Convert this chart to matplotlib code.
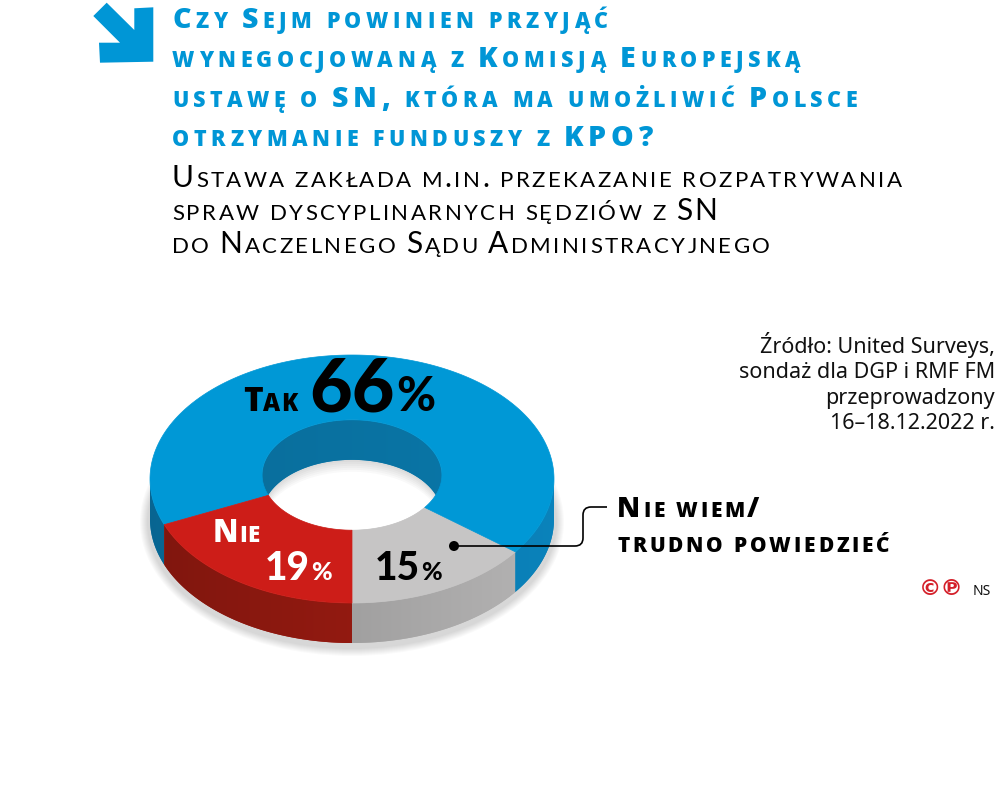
import numpy as np
import matplotlib.pyplot as plt
from matplotlib.patches import Polygon, Circle, PathPatch, Ellipse
from matplotlib.path import Path
from matplotlib.colors import to_rgb
from matplotlib.font_manager import findfont, FontProperties
from matplotlib.ft2font import FT2Font

# dane z wykresu
kategorie = ['Nie wiem/trudno powiedzieć', 'Tak', 'Nie']
wartosci = [15, 66, 19]
kolory_gora = ['#c6c5c5', '#0098d6', '#cd1d18']
kolory_bok = ['#b0afaf', '#0a7fb6', '#a01c12']
kolor_sciany = '#0a78aa'

tytul = ['Czy Sejm powinien przyjąć',
         'wynegocjowaną z Komisją Europejską',
         'ustawę o SN, która ma umożliwić Polsce',
         'otrzymanie funduszy z KPO?']
podtytul = ['Ustawa zakłada m.in. przekazanie rozpatrywania',
            'spraw dyscyplinarnych sędziów z SN',
            'do Naczelnego Sądu Administracyjnego']
zrodlo = ['Źródło: United Surveys,',
          'sondaż dla DGP i RMF FM',
          'przeprowadzony',
          '16–18.12.2022 r.']

NIEBIESKI = '#0096d6'
W, H = 996, 795

fig = plt.figure(figsize=(W / 100, H / 100), dpi=100)
ax = fig.add_axes([0, 0, 1, 1])
ax.set_xlim(0, W)
ax.set_ylim(H, 0)
ax.axis('off')
renderer = fig.canvas.get_renderer()

_fonty = {}


def szerokosc(ch, rozmiar, waga, rodzina):
    # szerokosc znaku (advance) w pikselach przy dpi 100
    klucz = (rodzina, waga)
    if klucz not in _fonty:
        _fonty[klucz] = FT2Font(findfont(FontProperties(family=rodzina, weight=waga)))
    f = _fonty[klucz]
    f.set_size(rozmiar, 100)
    g = f.load_char(ord(ch))
    return g.linearHoriAdvance / 65536


def ciag(x, y, czesci, kolor='black', rodzina='Lato'):
    # kolejne kawalki tekstu jeden za drugim
    for tekst, rozmiar, waga in czesci:
        t = ax.text(x, y, tekst, fontsize=rozmiar, fontweight=waga, color=kolor,
                    family=rodzina, ha='left', va='baseline')
        x += t.get_window_extent(renderer).width + 1
    return x


def kapitaliki(x, y, tekst, duzy, maly, waga=800, kolor='black',
               rodzina='Open Sans', odstep=2.0):
    # kapitaliki: male litery jako mniejsze wielkie, znak po znaku
    for ch in tekst:
        if ch.islower() or ch == ' ':
            s, rozm = ch.upper(), maly
        else:
            s, rozm = ch, duzy
        if ch != ' ':
            ax.text(x, y, s, fontsize=rozm, fontweight=waga, color=kolor,
                    family=rodzina, ha='left', va='baseline')
        x += szerokosc(s, rozm, waga, rodzina) + odstep
    return x


# --- donut 3D ---
cx, cy = 352, 479
R, r = 202, 124
fr = 0.445        # wielkosc dziury
dy_in = -4
gl = 40           # grubosc


def pkt(th, f=1.0, dy=0.0):
    return cx + R * f * np.cos(th), cy - r * f * np.sin(th) + dy


def gradient(punkty, kolor, kl, kp):
    # wielokat z poziomym gradientem (ciemniej z lewej)
    p = Polygon(punkty, closed=True, facecolor=kolor, edgecolor='none')
    ax.add_patch(p)
    xs = np.array([q[0] for q in punkty])
    ys = np.array([q[1] for q in punkty])
    x0, x1 = xs.min(), xs.max()
    xx = np.linspace(x0, x1, 300)
    k = kl + (kp - kl) * (xx - (cx - R)) / (2 * R)
    rgb = np.clip(np.array(to_rgb(kolor))[None, None, :] * k[None, :, None], 0, 1)
    im = ax.imshow(rgb, extent=(x0, x1, ys.max(), ys.min()), aspect='auto',
                   interpolation='bilinear', zorder=1)
    im.set_clip_path(p)


# cien pod spodem
for k in range(8):
    ax.add_patch(Ellipse((cx, cy + gl + 3), 2 * (R + 10 - k), 2 * (r + 10 - k),
                         facecolor='#000000', edgecolor='none', alpha=0.02))

# bialy srodek dziury i lekki cien w srodku
dziura = Ellipse((cx, cy + dy_in), 2 * R * fr, 2 * r * fr, facecolor='white',
                 edgecolor='none')
ax.add_patch(dziura)
luk = np.linspace(0, np.pi, 120)
for k in range(2, 14, 2):
    gora = [pkt(t, fr, dy_in + gl) for t in luk]
    dol = [pkt(t, fr, dy_in + gl + k) for t in luk[::-1]]
    cien = Polygon(gora + dol, closed=True, facecolor='#000000', edgecolor='none',
                   alpha=0.025)
    ax.add_patch(cien)
    cien.set_clip_path(dziura)

katy = -np.pi / 2 + np.concatenate([[0], np.cumsum(wartosci)]) / sum(wartosci) * 2 * np.pi

# boki zewnetrzne (tylko przod)
for i in range(len(wartosci)):
    ts = np.linspace(katy[i], katy[i + 1], 600)
    przod = np.sin(ts) <= 1e-9
    granice = np.flatnonzero(np.diff(np.concatenate([[0], przod.astype(int), [0]])))
    for a, b in zip(granice[::2], granice[1::2]):
        seg = ts[a:b]
        gora = [pkt(t) for t in seg]
        dol = [pkt(t, dy=gl) for t in seg[::-1]]
        gradient(gora + dol, kolory_bok[i], 0.8, 1.03)

# sciana wewnetrzna (tyl dziury)
seg = np.linspace(0, np.pi, 200)
gora = [pkt(t, fr, dy_in) for t in seg]
dol = [pkt(t, fr, dy_in + gl) for t in seg[::-1]]
gradient(gora + dol, kolor_sciany, 0.9, 1.0)

# gorne powierzchnie
for i in range(len(wartosci)):
    ts = np.linspace(katy[i], katy[i + 1], 300)
    zew = [pkt(t) for t in ts]
    wew = [pkt(t, fr, dy_in) for t in ts[::-1]]
    ax.add_patch(Polygon(zew + wew, closed=True, facecolor=kolory_gora[i],
                         edgecolor=kolory_gora[i], lw=0.5))

# --- etykiety na wykresie ---
x = kapitaliki(243, 411, 'Tak', 24, 17, odstep=0.5)
ciag(x + 12, 411, [('66', 53, 'black'), ('%', 34, 'black')])

kapitaliki(213, 542, 'Nie', 22, 16, kolor='white', odstep=0.5)
ciag(265, 580, [('19', 28, 'black'), ('%', 18, 'black')], kolor='white')
ciag(375, 580, [('15', 28, 'black'), ('%', 18, 'black')])

# linia odnosnika
ax.add_patch(Circle((454, 546), 5, facecolor='black', edgecolor='none'))
sciezka = Path([(454, 546), (575, 546), (583, 546), (583, 538), (583, 515),
                (583, 507), (591, 507), (607, 507)],
               [Path.MOVETO, Path.LINETO, Path.CURVE3, Path.CURVE3, Path.LINETO,
                Path.CURVE3, Path.CURVE3, Path.LINETO])
ax.add_patch(PathPatch(sciezka, facecolor='none', edgecolor='black', lw=1.2))

kapitaliki(617, 517, 'Nie wiem/', 20, 15, odstep=2.8)
kapitaliki(617, 552, 'trudno powiedzieć', 20, 15, odstep=2.8)

# --- tytul ---
strzalka = [(106.7, 2.7), (134.3, 30), (134.3, 8.3), (153.3, 7.3), (153.3, 61.7),
            (100, 62.7), (99, 42.7), (120, 42.7), (93.3, 16)]
ax.add_patch(Polygon(strzalka, closed=True, facecolor=NIEBIESKI, edgecolor='none'))

for i, linia in enumerate(tytul):
    kapitaliki(172, 28 + i * 39.4, linia, 20.5, 15.5, kolor=NIEBIESKI, odstep=4.5)

for i, linia in enumerate(podtytul):
    kapitaliki(172, 187 + i * 33, linia, 21.5, 16, 'normal', rodzina='Lato', odstep=2.4)

# zrodlo
for i, linia in enumerate(zrodlo):
    ax.text(995, 353 + i * 25.3, linia, fontsize=15.5, family='Noto Sans',
            ha='right', va='baseline', color='#111111')

ax.text(919, 595, '©℗', fontsize=16, fontweight='bold', family='DejaVu Sans',
        color='#d4202a', ha='left', va='baseline')
ax.text(973, 595, 'NS', fontsize=10, family='Noto Sans', color='#111111',
        ha='left', va='baseline')

ax.set_xlim(0, W)
ax.set_ylim(H, 0)
fig.savefig('out.png', dpi=100, facecolor='white')
